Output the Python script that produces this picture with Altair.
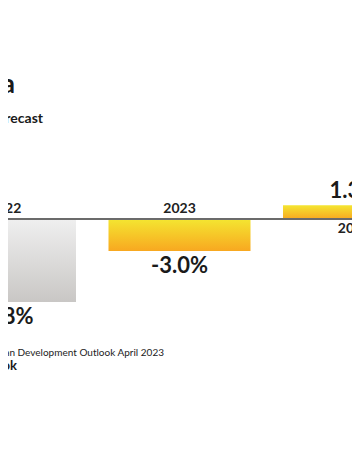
import altair as alt
import pandas as pd

# ---- data ----
years = [2022, 2023, 2024]
growth = [-7.8, -3.0, 1.3]
value_labels = ["-7.8%", "-3.0%", "1.3%"]
kinds = ["actual", "forecast", "forecast"]

title_text = "Sri Lanka"
subtitle_text = "GDP Growth Forecast"
source_text = "Source: Asian Development Outlook April 2023"
footer_text = "adb.org/outlook"

df = pd.DataFrame({
    "year": years,
    "growth": growth,
    "label": value_labels,
    "kind": kinds,
    "zero": [0] * len(years),
})

FONT = "Lato"
xs = alt.Scale(domain=[2022, 2024], range=[-3, 346], zero=False, nice=False, padding=0)
ys = alt.Scale(domain=[0, -10], range=[211, 317.5], zero=False, nice=False, padding=0)

gray_grad = alt.Gradient(
    gradient="linear",
    stops=[alt.GradientStop(color="#efefef", offset=0),
           alt.GradientStop(color="#c9c7c5", offset=1)],
    x1=0, x2=0, y1=0, y2=1,
)
yellow_grad = alt.Gradient(
    gradient="linear",
    stops=[alt.GradientStop(color="#f4e631", offset=0),
           alt.GradientStop(color="#f8a820", offset=1)],
    x1=0, x2=0, y1=0, y2=1,
)

base = alt.Chart(df)
X = alt.X("year:Q", scale=xs, axis=None)

bars_actual = base.transform_filter(alt.datum.kind == "actual").mark_bar(
    size=142, color=gray_grad
).encode(x=X, y=alt.Y("growth:Q", scale=ys, axis=None), y2="zero:Q")

bars_fc = base.transform_filter(alt.datum.kind == "forecast").mark_bar(
    size=142, color=yellow_grad
).encode(x=X, y=alt.Y("growth:Q", scale=ys, axis=None), y2="zero:Q")

rule = alt.Chart(pd.DataFrame({"zero": [0]})).mark_rule(
    color="#6b6b6b", strokeWidth=2
).encode(y=alt.Y("zero:Q", scale=ys, axis=None), x=alt.value(-8), x2=alt.value(352))

year_above = base.transform_filter(alt.datum.growth < 0).mark_text(
    font=FONT, fontSize=14, fontWeight="bold", color="#222222", baseline="middle", dy=-10
).encode(x=X, y=alt.Y("zero:Q", scale=ys, axis=None), text=alt.Text("year:N"))

year_below = base.transform_filter(alt.datum.growth >= 0).mark_text(
    font=FONT, fontSize=14, fontWeight="bold", color="#222222", baseline="middle", dy=10
).encode(x=X, y=alt.Y("zero:Q", scale=ys, axis=None), text=alt.Text("year:N"))

val_neg = base.transform_filter(alt.datum.growth < 0).mark_text(
    font=FONT, fontSize=22, fontWeight="bold", color="#1a1a1a", baseline="middle", dy=15
).encode(x=X, y=alt.Y("growth:Q", scale=ys, axis=None), text="label:N")

val_pos = base.transform_filter(alt.datum.growth >= 0).mark_text(
    font=FONT, fontSize=22, fontWeight="bold", color="#1a1a1a", baseline="middle", dy=-14
).encode(x=X, y=alt.Y("growth:Q", scale=ys, axis=None), text="label:N")

one = alt.Chart(pd.DataFrame({"t": [0]}))

def note(text, x, y, size, weight, color="#1a1a1a"):
    return one.mark_text(
        text=text, font=FONT, fontSize=size, fontWeight=weight, color=color,
        align="right", baseline="alphabetic"
    ).encode(x=alt.value(x), y=alt.value(y))

title = note(title_text, 7, 85, 26, "bold")
subtitle = note(subtitle_text, 35, 115, 14, "bold")
source = note(source_text, 156, 348, 10, "normal", "#222222")
footer = note(footer_text, 9, 362, 13, "bold")

chart = alt.layer(
    bars_actual, bars_fc, rule, year_above, year_below, val_neg, val_pos,
    title, subtitle, source, footer
).properties(
    width=344, height=420, autosize=alt.AutoSizeParams(type="none"), padding=0,
    background="white"
).configure_view(stroke=None)

chart.save("out.html", embed_options={"renderer": "svg", "actions": False})
